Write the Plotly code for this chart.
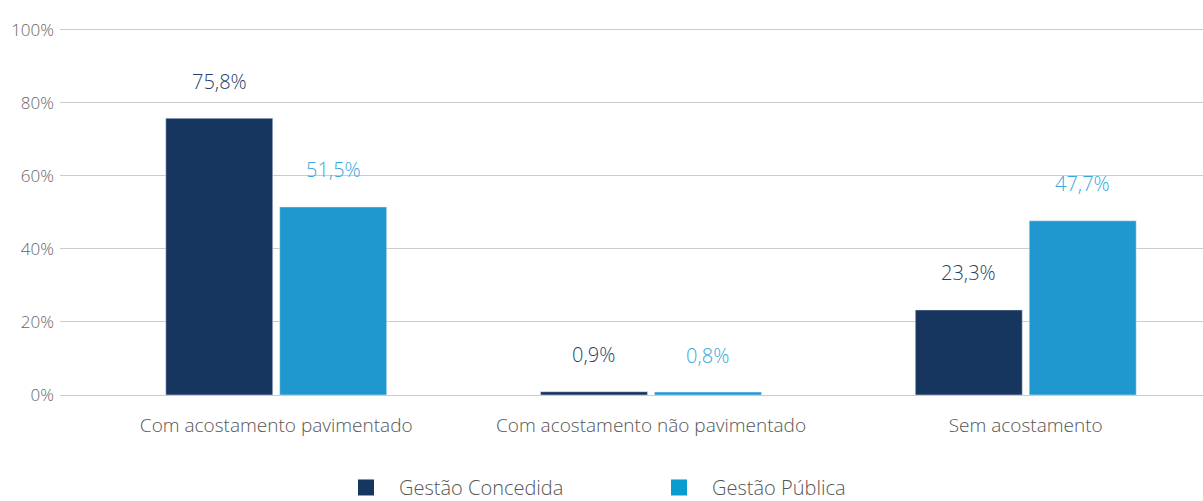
import plotly.graph_objects as go

categories = ["Com acostamento pavimentado", "Com acostamento não pavimentado", "Sem acostamento"]
concedida = [75.8, 0.9, 23.3]
publica = [51.5, 0.8, 47.7]
series_names = ["Gestão Concedida", "Gestão Pública"]
y_ticks = [0, 20, 40, 60, 80, 100]
y_tick_labels = ["0%", "20%", "40%", "60%", "80%", "100%"]

dark = "#17365f"
light = "#2097cf"
dark_lbl = "#243f6b"
light_lbl = "#38a8dc"
FONT = "Open Sans"

fig = go.Figure()
fig.add_trace(go.Bar(x=categories, y=concedida, marker_color=dark, showlegend=False))
fig.add_trace(go.Bar(x=categories, y=publica, marker_color=light, showlegend=False))

# legend proxies with large square markers
fig.add_trace(go.Scatter(x=[None], y=[None], mode="markers", name=series_names[0],
                         marker=dict(symbol="square", size=20, color=dark)))
fig.add_trace(go.Scatter(x=[None], y=[None], mode="markers", name=series_names[1],
                         marker=dict(symbol="square", size=20, color="#0a9bcf")))

def fmt(v):
    return f"{v:.1f}".replace(".", ",") + "%"

for i, c in enumerate(categories):
    fig.add_annotation(x=c, y=concedida[i], text=fmt(concedida[i]), showarrow=False,
                       xshift=-57, yshift=37,
                       font=dict(family=FONT, size=20, color=dark_lbl, weight=300))
    fig.add_annotation(x=c, y=publica[i], text=fmt(publica[i]), showarrow=False,
                       xshift=57, yshift=37,
                       font=dict(family=FONT, size=20, color=light_lbl, weight=300))

fig.update_layout(
    width=1203, height=501,
    margin=dict(l=60, r=0, t=28, b=106, autoexpand=False),
    paper_bgcolor="white", plot_bgcolor="white",
    barmode="group", bargap=0.392, bargroupgap=0.061,
    font=dict(family=FONT, color="#555555"),
    legend=dict(orientation="h", x=0.537, xanchor="center", xref="container",
                y=0.027, yanchor="middle", yref="container",
                font=dict(family=FONT, size=20, color="#555555", weight=300),
                itemwidth=56, entrywidthmode="pixels", entrywidth=242),
)
fig.update_xaxes(
    type="category", range=[-0.577, 2.473], automargin=False,
    showgrid=False, showline=False, zeroline=False,
    tickfont=dict(family=FONT, size=19, color="#555555", weight=300),
    ticks="", ticklabelstandoff=17,
)
fig.update_yaxes(
    range=[0, 100.5], tickvals=y_ticks, ticktext=y_tick_labels, automargin=False,
    showgrid=True, gridcolor="#cccccc", gridwidth=1,
    zeroline=True, zerolinecolor="#cccccc", zerolinewidth=1,
    showline=False, ticks="",
    tickfont=dict(family=FONT, size=17, color="#666666", weight=300),
    ticklabelstandoff=5,
)

fig.write_html("out.html", config={"displayModeBar": False},
               post_script="document.body.style.margin='0';")
